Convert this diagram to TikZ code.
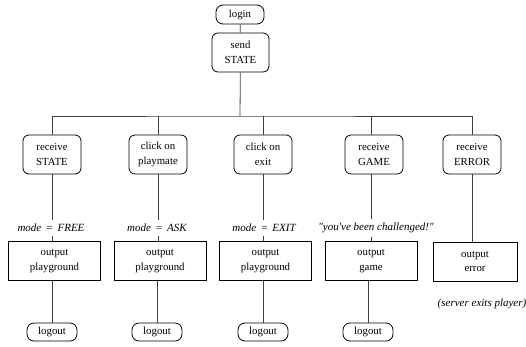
\documentclass[tikz,border=0pt]{standalone}
\usepackage{fontspec}
\setmainfont{Liberation Serif}
% straight quotes and apostrophes for the condition labels
\newfontfamily\condfont[Ligatures=TeXOff]{Liberation Serif}
\newcommand{\eqsp}{\hspace{0.4em}=\hspace{0.4em}}
\begin{document}
\begin{tikzpicture}[x=1pt,y=-1pt,
  txt/.style={font=\fontsize{10.8}{14.5}\selectfont, align=center},
  event/.style={txt, draw=black, line width=0.8pt, rounded corners=6pt,
    minimum width=58pt, minimum height=39pt, inner sep=1pt},
  action/.style={txt, draw=black, line width=0.8pt,
    minimum width=92pt, minimum height=39pt, inner sep=1pt},
  terminal/.style={txt, draw=black, line width=0.8pt, rounded corners=7pt,
    minimum width=50pt, minimum height=18pt, inner sep=1pt},
  cond/.style={font=\condfont\fontsize{11}{13}\selectfont\itshape, inner sep=4pt},
  link/.style={draw=black!75, line width=0.8pt}]
\useasboundingbox (0,0) rectangle (526,346);

% start of the session
\node[terminal, minimum width=48pt, minimum height=19pt] (login) at (240,14.5) {login};
\node[event, minimum width=57pt] (send) at (240.5,52.5) {send\\STATE};
\coordinate (bus) at (240,116);

% incoming events and user actions
\node[event] (e1) at (52,154.5)  {receive\\STATE};
\node[event] (e2) at (158,154.5) {click on\\playmate};
\node[event] (e3) at (263,154.5) {click on\\exit};
\node[event] (e4) at (374,154.5) {receive\\GAME};
\node[event] (e5) at (472,154.5) {receive\\ERROR};

% resulting modes
\node[cond] (m1) at (51,228)  {mode\eqsp FREE};
\node[cond] (m2) at (157,228) {mode\eqsp ASK};
\node[cond] (m3) at (264,228) {mode\eqsp EXIT};
\node[cond] (m4) at (376,228) {"you've been challenged!"};

% outputs
\node[action] (o1) at (54.5,261)  {output\\playground};
\node[action] (o2) at (160,261)   {output\\playground};
\node[action] (o3) at (265.5,261) {output\\playground};
\node[action] (o4) at (371,261)   {output\\game};
\node[action, minimum width=84pt] (o5) at (475,261.5) {output\\error};
\node[cond, inner sep=0pt] (note) at (482,304) {(server exits player)};

% end of the session
\node[terminal] (x1) at (52,332)  {logout};
\node[terminal] (x2) at (157,332) {logout};
\node[terminal] (x3) at (263,332) {logout};
\node[terminal] (x4) at (368,332) {logout};

% connectors
\path[link] (login) -- (send);
\path[link] (send) -- (bus);
\path[link] (e1.north) |- (bus) -| (e5.north);
\path[link] (e2.north) -- (e2.north |- bus);
\path[link] (e3.north) -- (e3.north |- bus);
\path[link] (e4.north) ++(-3,0) coordinate (t4) -- (t4 |- bus);

\path[link] (e1.south) -- (m1.north -| e1.south);
\path[link] (m1.south -| e1.south) -- (o1.north -| e1.south);
\path[link] (e2.south) -- (m2.north -| e2.south);
\path[link] (m2.south -| e2.south) -- (o2.north -| e2.south);
\path[link] (e3.south) -- (m3.north -| e3.south);
\path[link] (m3.south -| e3.south) -- (o3.north -| e3.south);
\path[link] (e4.south) ++(-3,0) coordinate (c4) -- (m4.north -| c4);
\path[link] (m4.south -| c4) -- (o4.north -| c4);
\path[link] (e5.south) -- (o5.north -| e5.south);

\path[link] (o1.south -| x1.north) -- (x1.north);
\path[link] (o2.south -| x2.north) -- (x2.north);
\path[link] (o3.south -| x3.north) -- (x3.north);
\path[link] (o4.south -| x4.north) -- (x4.north);
\end{tikzpicture}
\end{document}
